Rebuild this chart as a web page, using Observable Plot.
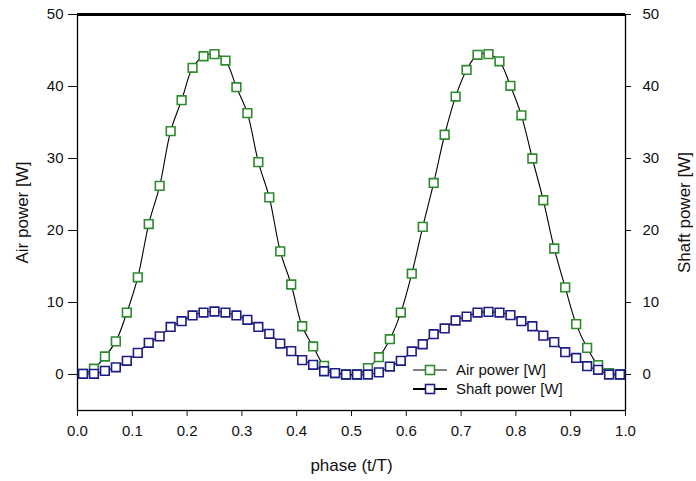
<!DOCTYPE html>
<html>
<head>
<meta charset="utf-8">
<script src="https://cdn.jsdelivr.net/npm/d3@7"></script>
<script src="https://cdn.jsdelivr.net/npm/@observablehq/plot@0.6"></script>
<style>
  html, body { margin: 0; padding: 0; background: white; }
  #wrap { position: relative; width: 696px; height: 481px; }
  #wrap g[aria-label="x-axis label"] text,
  #wrap g[aria-label="y-axis label"] text { font-size: 17px; }
  #legend { position: absolute; left: 0; top: 0; pointer-events: none; }
</style>
</head>
<body>
<div id="wrap"></div>
<script>
const phase = [0.01,0.03,0.05,0.07,0.09,0.11,0.13,0.15,0.17,0.19,0.21,0.23,0.25,0.27,0.29,0.31,0.33,0.35,0.37,0.39,0.41,0.43,0.45,0.47,0.49,
               0.51,0.53,0.55,0.57,0.59,0.61,0.63,0.65,0.67,0.69,0.71,0.73,0.75,0.77,0.79,0.81,0.83,0.85,0.87,0.89,0.91,0.93,0.95,0.97,0.99];
const airPower = [0.1,0.8,2.5,4.6,8.6,13.5,20.9,26.2,33.8,38.1,42.6,44.2,44.5,43.6,39.9,36.3,29.5,24.6,17.1,12.5,6.7,3.9,1.2,0.2,0.0,
                  0.0,0.9,2.4,4.9,8.6,14.0,20.5,26.6,33.3,38.6,42.3,44.4,44.5,43.5,40.1,36.0,30.0,24.2,17.5,12.1,7.0,3.7,1.3,0.2,0.0];
const shaftPower = [0.1,0.1,0.5,1.0,1.9,3.0,4.4,5.3,6.6,7.4,8.2,8.6,8.75,8.6,8.2,7.6,6.6,5.65,4.3,3.25,2.0,1.35,0.45,0.2,0.0,
                    0.0,0.0,0.3,1.1,1.9,3.2,4.2,5.6,6.4,7.5,8.05,8.6,8.7,8.6,8.25,7.4,6.7,5.4,4.5,3.1,2.3,1.15,0.65,0.0,0.0];
const xTicks = [0,0.1,0.2,0.3,0.4,0.5,0.6,0.7,0.8,0.9,1.0];
const yTicks = [0,10,20,30,40,50];
const seriesNames = ["Air power [W]", "Shaft power [W]"];
const seriesColors = ["#2e8a2e", "#1c1c86"];

const air = phase.map((p, i) => ({phase: p, value: airPower[i]}));
const shaft = phase.map((p, i) => ({phase: p, value: shaftPower[i]}));

const chart = Plot.plot({
  width: 696,
  height: 481,
  marginLeft: 77,
  marginRight: 71,
  marginTop: 14,
  marginBottom: 71,
  style: {fontFamily: "'Liberation Sans', Arial, sans-serif", fontSize: "15px", color: "#111", background: "white"},
  x: {domain: [0, 1]},
  y: {domain: [-5, 50]},
  marks: [
    Plot.axisX({ticks: xTicks, tickFormat: d3.format(".1f"), tickSize: 6, tickPadding: 9,
                label: "phase (t/T)", labelAnchor: "center", labelOffset: 60, labelArrow: "none"}),
    Plot.axisY({anchor: "left", ticks: yTicks, tickSize: 9, tickPadding: 5,
                label: "Air power [W]", labelAnchor: "center", labelOffset: 62, labelArrow: "none"}),
    Plot.axisY({anchor: "right", ticks: yTicks, tickSize: 5, tickPadding: 12,
                label: "Shaft power [W]", labelAnchor: "center", labelOffset: 64, labelArrow: "none"}),
    Plot.frame({stroke: "black", strokeWidth: 1.3}),
    Plot.ruleY([50], {stroke: "black", strokeWidth: 3}),
    Plot.line(air, {x: "phase", y: "value", curve: "catmull-rom", stroke: "black", strokeWidth: 1.1}),
    Plot.dot(air, {x: "phase", y: "value", symbol: "square", r: 4.9, stroke: seriesColors[0], strokeWidth: 1.6, fill: "white"}),
    Plot.line(shaft, {x: "phase", y: "value", curve: "catmull-rom", stroke: "black", strokeWidth: 1.1}),
    Plot.dot(shaft, {x: "phase", y: "value", symbol: "square", r: 4.9, stroke: seriesColors[1], strokeWidth: 1.6, fill: "white"})
  ]
});

const wrap = document.getElementById("wrap");
wrap.appendChild(chart);

// legend
const ns = "http://www.w3.org/2000/svg";
const lg = document.createElementNS(ns, "svg");
lg.setAttribute("id", "legend");
lg.setAttribute("width", 696);
lg.setAttribute("height", 481);
const rows = [370, 389];
seriesNames.forEach((name, i) => {
  const y = rows[i];
  const line = document.createElementNS(ns, "line");
  line.setAttribute("x1", 413); line.setAttribute("x2", 447);
  line.setAttribute("y1", y); line.setAttribute("y2", y);
  line.setAttribute("stroke", "black"); line.setAttribute("stroke-width", i === 0 ? 1.1 : 2);
  lg.appendChild(line);
  const sq = document.createElementNS(ns, "rect");
  sq.setAttribute("x", 425.5); sq.setAttribute("y", y - 4.5);
  sq.setAttribute("width", 9); sq.setAttribute("height", 9);
  sq.setAttribute("fill", "white"); sq.setAttribute("stroke", seriesColors[i]); sq.setAttribute("stroke-width", 1.6);
  lg.appendChild(sq);
  const t = document.createElementNS(ns, "text");
  t.setAttribute("x", 456); t.setAttribute("y", y);
  t.setAttribute("dy", "0.35em");
  t.setAttribute("font-family", "'Liberation Sans', Arial, sans-serif");
  t.setAttribute("font-size", "15px");
  t.setAttribute("fill", "#111");
  t.textContent = name;
  lg.appendChild(t);
});
wrap.appendChild(lg);
</script>
</body>
</html>
